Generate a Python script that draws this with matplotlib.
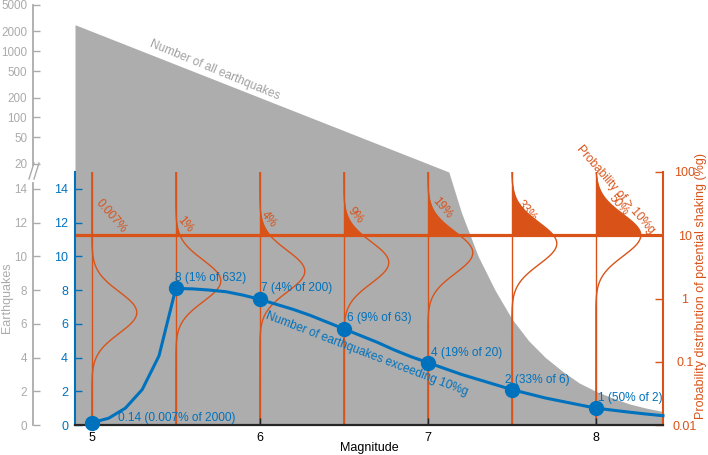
import numpy as np
import matplotlib
matplotlib.use('Agg')
import matplotlib.pyplot as plt
from matplotlib.lines import Line2D
from matplotlib.ticker import NullLocator
from matplotlib.transforms import blended_transform_factory

plt.rcParams['font.family'] = ['Liberation Sans', 'DejaVu Sans']
plt.rcParams['font.size'] = 9

# ---------------- data ----------------
# number of all earthquakes (grey area)
mag_all = [4.9, 7.125, 7.2, 7.3, 7.4, 7.5, 7.6, 7.7, 7.8, 7.9, 8.0, 8.1, 8.2, 8.3, 8.4]
count_all = [2520, 15, 12.6, 10, 8, 6.3, 5, 4, 3.2, 2.5, 2.0, 1.6, 1.25, 1.0, 0.8]

# number of earthquakes exceeding 10%g (blue line)
mag_exceed = [5.0, 5.1, 5.2, 5.3, 5.4, 5.5, 5.6, 5.7, 5.8, 5.9, 6.0, 6.1, 6.2, 6.3, 6.4,
              6.5, 6.6, 6.7, 6.8, 6.9, 7.0, 7.1, 7.2, 7.3, 7.4, 7.5, 7.6, 7.7, 7.8, 7.9,
              8.0, 8.1, 8.2, 8.3, 8.4]
count_exceed = [0.14, 0.4, 1.0, 2.1, 4.1, 8.1, 8.07, 8.0, 7.9, 7.7, 7.45, 7.15, 6.85, 6.5, 6.1,
                5.7, 5.3, 4.9, 4.45, 4.05, 3.7, 3.35, 3.0, 2.7, 2.4, 2.1, 1.85, 1.6, 1.4, 1.2,
                1.0, 0.88, 0.76, 0.65, 0.55]

mag_pts = [5.0, 5.5, 6.0, 6.5, 7.0, 7.5, 8.0]
count_pts = [0.14, 8.1, 7.45, 5.7, 3.7, 2.1, 1.0]
pt_labels = ['0.14 (0.007% of 2000)', '8 (1% of 632)', '7 (4% of 200)', '6 (9% of 63)',
             '4 (19% of 20)', '2 (33% of 6)', '1 (50% of 2)']

# shaking distributions (orange)
pdf_mags = [5.0, 5.5, 6.0, 6.5, 7.0, 7.5, 8.0]
median_shaking = [0.6, 1.9, 2.7, 3.7, 5.3, 7.4, 10.0]   # %g
sigma_log = 0.33                                          # decades
prob_labels = ['0.007%', '1%', '4%', '9%', '19%', '33%', '50%']
threshold = 10

gray_ticks = [0, 2, 4, 6, 8, 10, 12, 14, 20, 50, 100, 200, 500, 1000, 2000, 5000]
blue_ticks = [0, 2, 4, 6, 8, 10, 12, 14]
shake_ticks = [0.01, 0.1, 1, 10, 100]
shake_ticklabels = ['0.01', '0.1', '1', '10', '100']
mag_ticks = [5, 6, 7, 8]

# ---------------- style ----------------
GRAYFILL = '#adadad'
GRAY = '#ababab'
GRAYTXT = '#a0a0a0'
BLUE = '#0072BD'
ORANGE = '#D95319'
DARK = '#262626'
FS = 9
FSA = 8.6

FW, FH = 708, 455
fig = plt.figure(figsize=(FW / 100, FH / 100), dpi=100)
L = 75 / FW
W = (663 - 75) / FW
B = (FH - 425) / FH
H_all = (425 - 5) / FH
H_low = (425 - 172) / FH

# broken scale: linear up to 15, log above
BRK = 15.0
K = 3.924


def fwd(n):
    n = np.asarray(n, dtype=float)
    return np.where(n <= BRK, n, BRK + K * np.log10(np.maximum(n, BRK) / BRK))


def inv(y):
    y = np.asarray(y, dtype=float)
    return np.where(y <= BRK, y, BRK * 10 ** ((np.maximum(y, BRK) - BRK) / K))


# ---- grey (all earthquakes) axes ----
ax = fig.add_axes([L, B, W, H_all])
ax.set_zorder(1)
ax.set_yscale('function', functions=(fwd, inv))
ax.set_xlim(4.9, 8.4)
ax.set_ylim(0, 5000)
ax.fill_between(mag_all, 0, count_all, color=GRAYFILL, lw=0, zorder=1)
for s in ['top', 'right', 'bottom']:
    ax.spines[s].set_visible(False)
ax.spines['left'].set_position(('outward', 30))
ax.spines['left'].set_color(GRAY)
ax.spines['left'].set_linewidth(1.3)
ax.spines['left'].set_bounds(0, 14.35)
ax.set_xticks([])
ax.set_yticks(gray_ticks)
ax.set_yticklabels([str(t) for t in gray_ticks])
ax.yaxis.set_minor_locator(NullLocator())
ax.tick_params(axis='y', direction='in', length=5, width=1, colors=GRAY, pad=4.5,
               labelsize=8.4)
xs_sp = -41.7 / 588
ax.add_line(Line2D([xs_sp, xs_sp], [19, 5000],
                   transform=blended_transform_factory(ax.transAxes, ax.transData),
                   color=GRAY, lw=1.3, clip_on=False))
for x0 in (29, 34):
    fig.add_artist(Line2D([x0 / FW, (x0 + 5) / FW], [1 - 179 / FH, 1 - 163 / FH],
                          transform=fig.transFigure, color=GRAY, lw=1))
ax.text(0.238, 0.845, 'Number of all earthquakes', transform=ax.transAxes,
        rotation=-22.5, ha='center', va='center', color=GRAYTXT, fontsize=FSA,
        rotation_mode='anchor')
fig.text(7 / FW, 1 - 298 / FH, 'Earthquakes', rotation=90, ha='center', va='center',
         color=GRAY, fontsize=FS)

# ---- orange (shaking) axes ----
axo = fig.add_axes([L, B, W, H_low])
axo.set_zorder(2)
axo.patch.set_visible(False)
axo.set_xlim(4.9, 8.4)
axo.set_yscale('log')
axo.set_ylim(0.01, 100)
for s in ['top', 'left', 'bottom']:
    axo.spines[s].set_visible(False)
axo.spines['right'].set_color(ORANGE)
axo.spines['right'].set_linewidth(1.5)
axo.yaxis.tick_right()
axo.set_yticks(shake_ticks)
axo.set_yticklabels(shake_ticklabels)
axo.yaxis.set_minor_locator(NullLocator())
axo.set_xticks([])
axo.tick_params(axis='y', direction='in', length=6, width=1, colors=ORANGE, pad=15.8,
                labelsize=FS)
for t in axo.yaxis.get_major_ticks():
    t.label2.set_horizontalalignment('center')

W_PDF = 45 / 168
ys = np.logspace(-2, 2, 600)
for M, med in zip(pdf_mags, median_shaking):
    dens = np.exp(-0.5 * ((np.log10(ys) - np.log10(med)) / sigma_log) ** 2)
    xc = M + W_PDF * dens
    axo.plot([M, M], [0.01, 100], color=ORANGE, lw=1.0)
    axo.plot(xc, ys, color=ORANGE, lw=1.0)
    m = ys >= threshold
    axo.fill_betweenx(ys[m], M, xc[m], color=ORANGE, lw=0)
axo.axhline(threshold, color=ORANGE, lw=2.3)

prob_offsets = [(19, 19), (9, 11), (9, 16), (12, 20), (14, 27), (15, 24), (23, 30)]
for M, lab, (dx, dy) in zip(pdf_mags, prob_labels, prob_offsets):
    axo.annotate(lab, xy=(M, threshold), xytext=(dx, dy), textcoords='offset pixels',
                 rotation=-49, ha='center', va='center', color=ORANGE, fontsize=FSA,
                 rotation_mode='anchor')
axo.annotate('Probability of > 10%g', xy=(8.0, threshold), xytext=(20, 46),
             textcoords='offset pixels', rotation=-49, ha='center', va='center',
             color=ORANGE, fontsize=FSA, rotation_mode='anchor', annotation_clip=False)
fig.text(701 / FW, 1 - 286 / FH, 'Probability distribution of potential shaking (%g)',
         rotation=90, ha='center', va='center', color=ORANGE, fontsize=FS)

# ---- blue (exceeding) axes ----
axb = fig.add_axes([L, B, W, H_low])
axb.set_zorder(3)
axb.patch.set_visible(False)
axb.set_xlim(4.9, 8.4)
axb.set_ylim(0, 15)
for s in ['top', 'right']:
    axb.spines[s].set_visible(False)
axb.spines['left'].set_color(BLUE)
axb.spines['left'].set_linewidth(1.5)
axb.spines['bottom'].set_color(DARK)
axb.spines['bottom'].set_linewidth(1.6)
axb.plot(mag_exceed, count_exceed, color=BLUE, lw=2.2, clip_on=False, zorder=3)
axb.plot(mag_pts, count_pts, 'o', ms=10, color=BLUE, clip_on=False, zorder=4)
pt_offsets = [(26, 5), (-1, 10), (1, 11), (3, 11), (3, 10), (-7, 10), (2, 10)]
for M, c, lab, (dx, dy) in zip(mag_pts, count_pts, pt_labels, pt_offsets):
    axb.annotate(lab, xy=(M, c), xytext=(dx, dy), textcoords='offset pixels',
                 ha='left', va='center', color=BLUE, fontsize=FSA)
axb.text(0.497, 0.28, 'Number of earthquakes exceeding 10%g', transform=axb.transAxes,
         rotation=-21, ha='center', va='center', color=BLUE, fontsize=FSA,
         rotation_mode='anchor')
axb.set_yticks(blue_ticks)
axb.set_yticklabels([str(t) for t in blue_ticks])
axb.tick_params(axis='y', direction='in', length=5, width=1, colors=BLUE, pad=5, labelsize=FS)
axb.set_xticks(mag_ticks)
axb.set_xticklabels([str(t) for t in mag_ticks])
axb.tick_params(axis='x', direction='in', length=5, width=1, color=DARK, labelcolor='black',
                pad=5, labelsize=FS)
axb.set_xlabel('Magnitude', color='black', fontsize=FS)
axb.xaxis.set_label_coords(0.5, -0.067)

fig.savefig('out.png', dpi=100)
